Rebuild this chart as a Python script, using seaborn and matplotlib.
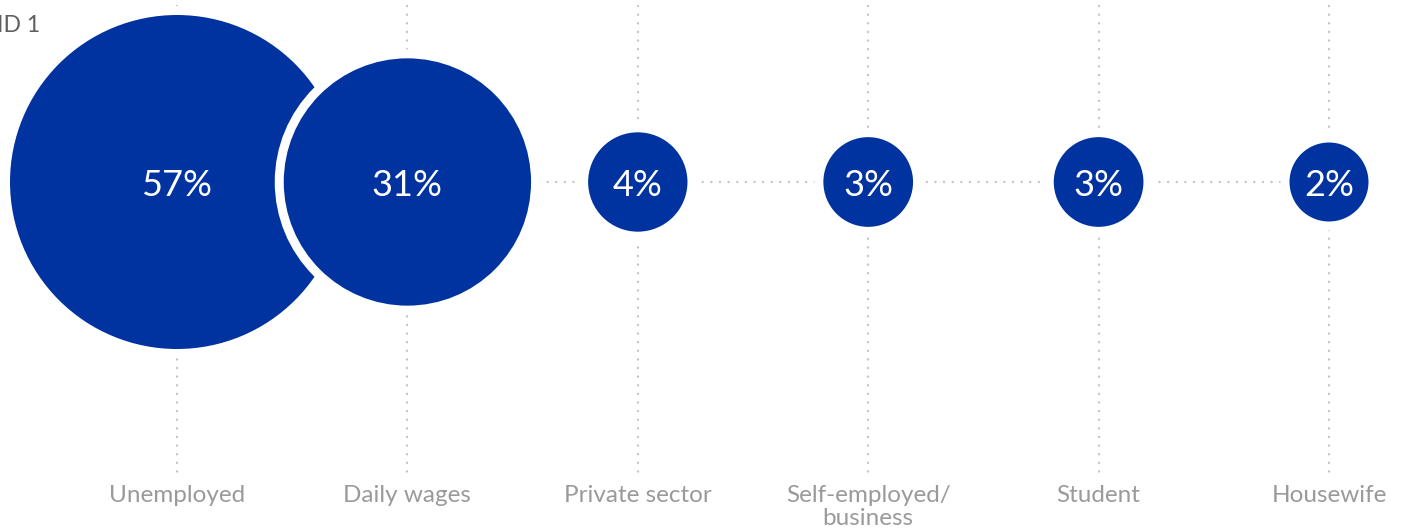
import pandas as pd
import matplotlib
matplotlib.use("Agg")
import matplotlib.pyplot as plt
import seaborn as sns

# Occupation shares (percent)
categories = ["Unemployed", "Daily wages", "Private sector",
              "Self-employed/\nbusiness", "Student", "Housewife"]
shares = [57, 31, 4, 3, 3, 2]
share_labels = ["57%", "31%", "4%", "3%", "3%", "2%"]

df = pd.DataFrame({"category": categories, "share": shares, "label": share_labels})
df["pos"] = range(len(df))
df["row"] = 182

sns.set_theme(style="white")
plt.rcParams["font.family"] = ["Lato", "DejaVu Sans"]

blue = "#0033a0"
dot_grey = "#c4c4c4"

fig = plt.figure(figsize=(14.03, 5.31), dpi=100)
ax = fig.add_axes([0, 0, 1, 1])

# x in category units, y in pixel-like units (0 at top)
ax.set_xlim(-177 / 230.4, (1403 - 177) / 230.4)
ax.set_ylim(531, 0)
ax.axis("off")

# dotted guide lines
dots = dict(color=dot_grey, lw=1.7, ls=(0, (0.05, 3.6)),
            dash_capstyle="round", zorder=1)
for p in df["pos"]:
    ax.plot([p, p], [6, 472], **dots)
ax.plot([0, len(df) - 1], [182, 182], **dots)

# bubbles, area scaled linearly between min and max value
ring = 9
sns.scatterplot(data=df, x="pos", y="row", size="share",
                sizes=((88 * 0.72) ** 2, (343 * 0.72) ** 2),
                color=blue, edgecolor="white", linewidth=ring * 0.72,
                alpha=1, legend=False, ax=ax, zorder=3)

for _, r in df.iterrows():
    ax.text(r["pos"], r["row"] + 4, r["label"], color="white",
            ha="center", va="center", fontsize=26, zorder=4)
    ax.text(r["pos"], 485, r["category"], color="#9a9a9a", ha="center",
            va="top", fontsize=17.5, linespacing=1.1, zorder=4)

fig.text(-0.002, 1 - 26 / 531, "ID 1", color="#5f5f5f", ha="left",
         va="center", fontsize=16.5)

plt.savefig("out.png", dpi=100)
